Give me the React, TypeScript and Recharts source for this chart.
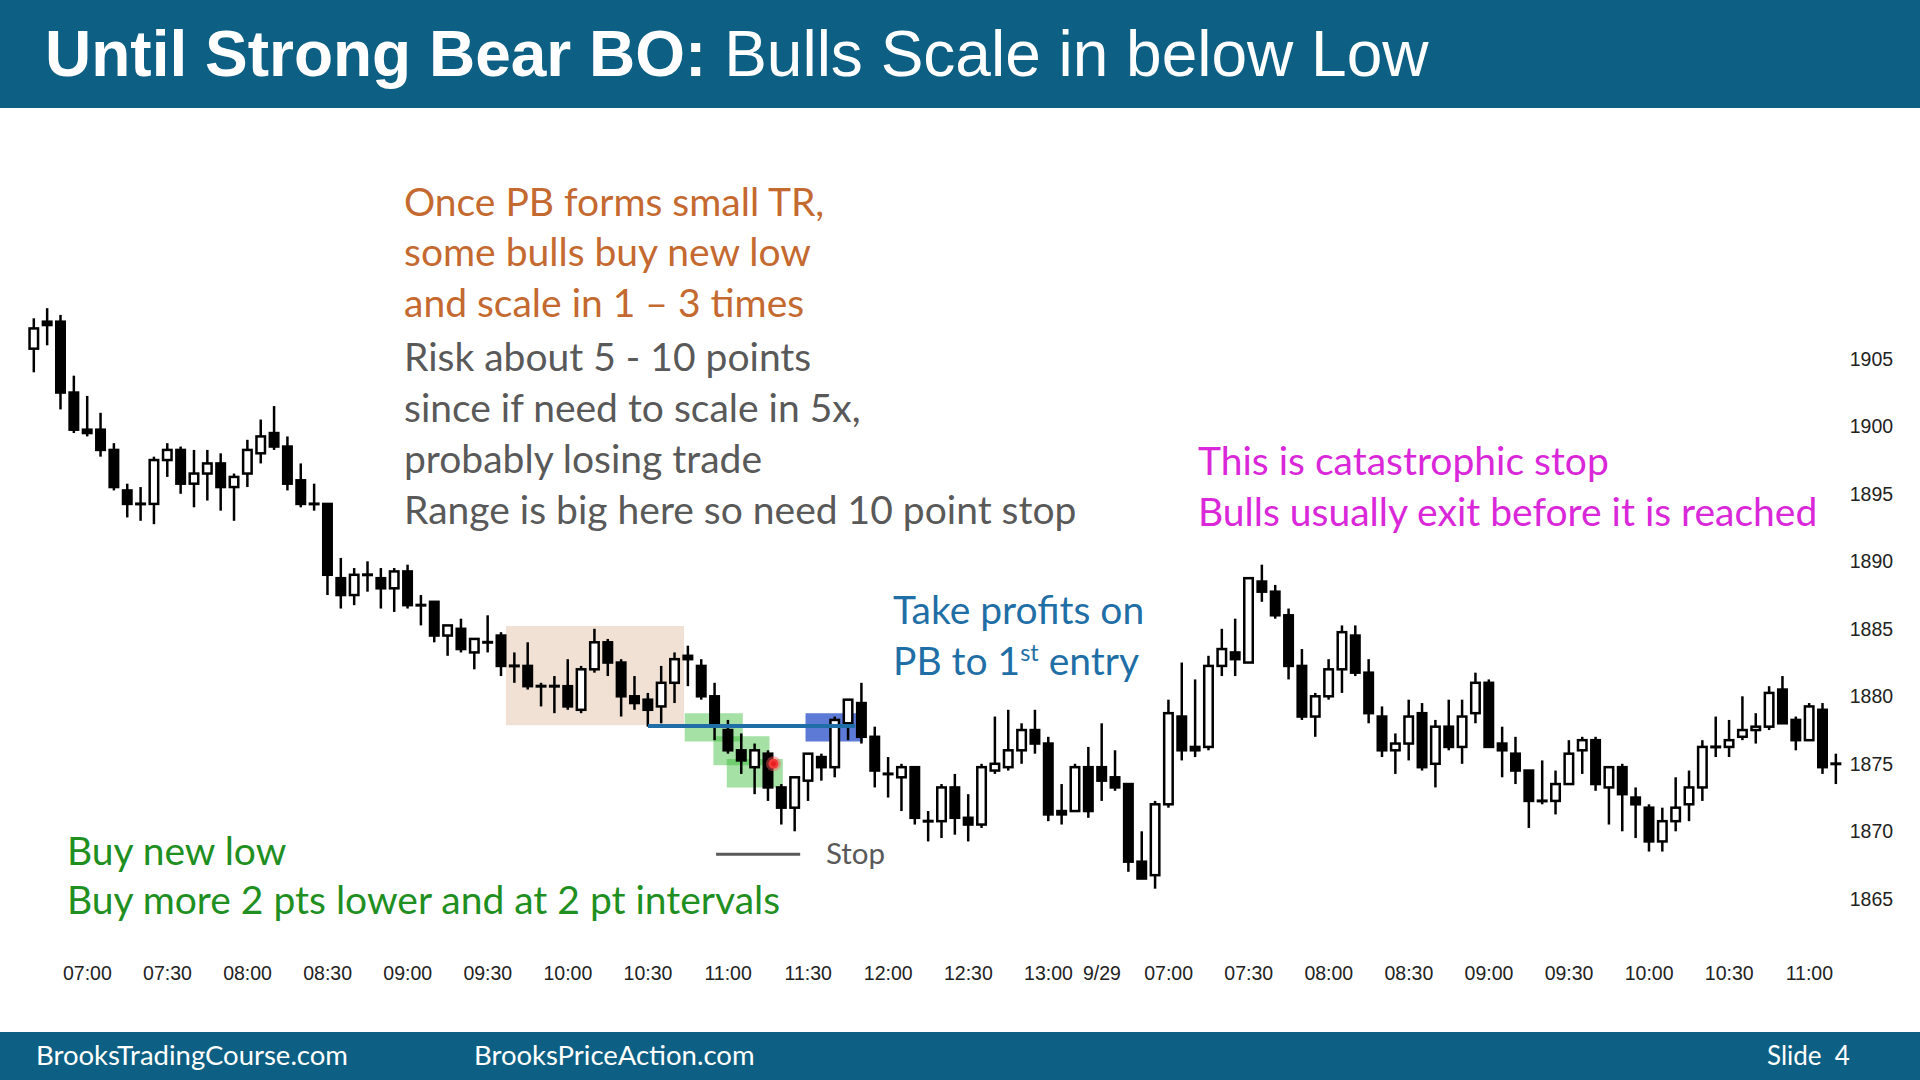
import React from 'react';
import { ComposedChart, Bar, XAxis, YAxis, ReferenceArea, ReferenceLine, ReferenceDot } from 'recharts';

const opens = [1905.75,1907.75,1907.75,1902.5,1899.75,1899.75,1898.25,1895.25,1894.25,1894.25,1897.5,1898.25,1895.75,1896.5,1897.25,1895.5,1896.5,1898.0,1899.5,1898.5,1896.0,1894.25,1894.25,1888.75,1887.5,1889.0,1888.75,1888.0,1889.25,1886.75,1887.0,1884.5,1885.0,1883.25,1884.0,1884.5,1882.25,1882.25,1880.75,1880.75,1880.75,1879.0,1882.0,1884.0,1882.5,1880.0,1879.75,1879.25,1881.0,1883.0,1882.25,1880.0,1877.5,1876.0,1874.75,1875.75,1873.25,1871.75,1873.75,1875.5,1874.75,1878.0,1879.5,1877.0,1874.25,1874.0,1874.75,1870.75,1870.75,1873.25,1871.0,1870.5,1874.5,1874.75,1876.0,1877.5,1876.5,1871.5,1871.5,1874.75,1874.75,1874.0,1873.5,1867.75,1866.75,1872.0,1878.5,1876.25,1876.25,1882.25,1883.25,1882.5,1888.5,1887.75,1886.0,1882.25,1878.5,1880.0,1882.0,1884.5,1881.75,1878.5,1876.0,1876.5,1878.75,1875.0,1877.75,1876.25,1878.75,1881.0,1876.5,1875.75,1874.5,1872.25,1872.25,1873.5,1876.0,1876.75,1873.25,1874.75,1872.5,1871.75,1869.25,1870.75,1872.0,1873.25,1876.25,1876.25,1877.0,1877.5,1877.75,1880.5,1878.25,1876.75,1879.0,1875.0];
const highs = [1908.0,1908.75,1908.25,1903.75,1902.25,1901.0,1898.75,1895.75,1895.5,1897.75,1898.75,1898.5,1898.25,1898.25,1898.0,1896.5,1899.0,1900.5,1901.5,1899.25,1897.25,1895.75,1894.25,1890.25,1889.5,1890.0,1889.5,1889.5,1889.75,1887.5,1887.0,1885.25,1885.75,1884.25,1886.0,1884.75,1883.25,1884.0,1881.0,1881.5,1882.75,1882.25,1885.0,1884.25,1882.75,1881.5,1880.25,1882.25,1883.25,1883.75,1882.75,1881.0,1878.25,1877.25,1876.5,1876.0,1873.5,1874.0,1875.75,1875.75,1878.5,1879.75,1881.0,1877.75,1875.5,1875.0,1874.75,1871.5,1873.5,1874.25,1872.75,1875.0,1878.5,1879.0,1878.0,1879.0,1877.0,1873.5,1875.0,1876.25,1878.0,1876.0,1873.5,1870.0,1872.25,1879.75,1882.5,1881.25,1883.0,1885.0,1885.75,1888.75,1889.75,1888.25,1886.5,1883.5,1880.25,1882.75,1885.25,1885.25,1882.75,1879.25,1877.25,1879.75,1879.5,1878.25,1879.75,1879.75,1881.75,1881.25,1877.75,1877.0,1874.5,1875.25,1874.5,1876.75,1877.0,1877.0,1874.75,1875.0,1873.25,1872.0,1871.75,1874.0,1874.5,1876.75,1878.5,1878.25,1880.0,1878.75,1880.75,1881.5,1878.5,1879.5,1879.5,1875.75];
const lows = [1904.0,1906.0,1901.25,1899.5,1899.25,1897.75,1895.25,1893.25,1893.0,1892.75,1896.25,1895.0,1894.0,1894.5,1893.75,1893.0,1895.5,1897.25,1898.25,1895.25,1894.0,1893.75,1887.5,1886.5,1886.75,1887.75,1886.5,1886.25,1886.5,1885.25,1884.0,1883.0,1883.25,1882.0,1883.25,1881.5,1881.0,1880.5,1879.25,1878.75,1879.0,1878.75,1881.75,1881.5,1878.5,1879.0,1877.75,1878.0,1879.5,1880.75,1879.75,1876.75,1875.75,1874.25,1872.75,1872.25,1870.5,1870.0,1872.25,1873.75,1874.0,1876.75,1876.5,1873.25,1872.5,1871.5,1870.5,1869.25,1869.5,1869.75,1869.25,1870.25,1874.25,1874.5,1875.0,1875.75,1870.75,1870.5,1871.5,1871.0,1872.25,1873.0,1867.0,1866.5,1865.75,1871.75,1875.25,1875.5,1876.0,1881.5,1881.5,1882.5,1887.0,1885.75,1881.25,1878.25,1877.0,1879.75,1880.25,1881.5,1878.0,1875.5,1874.25,1875.25,1874.5,1873.25,1876.0,1875.0,1878.0,1876.25,1874.0,1873.5,1870.25,1872.0,1871.25,1873.5,1874.25,1873.0,1870.5,1870.0,1869.5,1868.5,1868.5,1870.0,1870.75,1872.25,1875.5,1875.5,1876.75,1876.5,1877.5,1878.0,1876.0,1876.75,1874.25,1873.5];
const closes = [1907.25,1907.5,1902.5,1899.75,1899.5,1898.25,1895.5,1894.25,1894.25,1897.5,1898.25,1895.75,1896.5,1897.25,1895.5,1896.25,1898.25,1899.25,1898.5,1895.75,1894.25,1894.25,1889.0,1887.5,1889.0,1889.0,1888.0,1889.25,1886.75,1886.75,1884.5,1885.25,1883.5,1884.25,1884.0,1882.25,1882.25,1880.75,1880.75,1880.75,1879.25,1882.0,1884.0,1882.5,1880.0,1879.5,1879.0,1881.0,1882.75,1882.75,1880.0,1877.75,1876.0,1875.25,1876.0,1873.25,1871.75,1874.0,1875.75,1874.75,1878.25,1879.75,1877.0,1874.5,1874.25,1874.75,1871.0,1870.75,1873.25,1871.0,1870.5,1874.75,1875.0,1876.0,1877.5,1876.5,1871.25,1871.25,1874.75,1871.5,1873.75,1873.25,1867.75,1866.5,1872.0,1878.75,1876.0,1876.0,1882.25,1883.5,1882.75,1888.75,1887.75,1886.0,1882.25,1878.5,1880.0,1882.0,1884.75,1881.75,1878.75,1876.0,1876.5,1878.5,1874.75,1877.75,1876.25,1878.5,1881.0,1876.25,1876.0,1874.5,1872.25,1872.25,1873.5,1875.75,1876.75,1873.5,1874.75,1872.75,1872.0,1869.25,1870.75,1871.75,1873.25,1876.25,1876.25,1876.75,1877.5,1877.75,1880.25,1878.0,1876.75,1879.25,1874.75,1875.0];

const tickIndex = [4,10,16,22,28,34,40,46,52,58,64,70,76,80,85,91,97,103,109,115,121,127,133];
const tickLabels = ['07:00','07:30','08:00','08:30','09:00','09:30','10:00','10:30','11:00','11:30','12:00','12:30','13:00','9/29','07:00','07:30','08:00','08:30','09:00','09:30','10:00','10:30','11:00'];
const priceTicks = [1865,1870,1875,1880,1885,1890,1895,1900,1905];

// annotation zones in data units: [x1, x2, y1, y2]
const tanZone = [35.35, 48.7, 1877.85, 1885.2];
const greenZones = [
  [48.75, 53.1, 1876.65, 1878.75],
  [50.9, 55.1, 1874.9, 1877.05],
  [51.9, 56.1, 1873.25, 1875.35],
];
const blueZone = [57.8, 62.1, 1876.65, 1878.75];
const entryLine = [46, 61.5, 1877.8];
const stopLine = [51.1, 57.4, 1868.3];
const pointer = [55.4, 1875.0];

const data = opens.map((o, i) => ({
  i,
  o,
  h: highs[i],
  l: lows[i],
  c: closes[i],
  range: [lows[i], highs[i]],
}));

const Candle = (props: any) => {
  const { x, y, width, height, payload } = props;
  if (!payload) return null;
  const { o, h, l, c } = payload;
  const top = Math.min(y, y + height);
  const hgt = Math.abs(height);
  const ppu = h > l ? hgt / (h - l) : 0;
  const py = (v: number) => top + (h - v) * ppu;
  const cx = x + width / 2;
  const bull = c > o;
  const bt = py(Math.max(o, c));
  const bb = py(Math.min(o, c));
  const sw = 2.5;
  const elems: any[] = [];
  elems.push(<line key="w" x1={cx} x2={cx} y1={py(h)} y2={py(l)} stroke="#000" strokeWidth={2.5} />);
  if (bb - bt < 2.5) {
    elems.push(<line key="d" x1={x} x2={x + width} y1={(bt + bb) / 2} y2={(bt + bb) / 2} stroke="#000" strokeWidth={3} />);
  } else {
    elems.push(
      <rect key="b" x={x + sw / 2} y={bt} width={width - sw} height={bb - bt}
        fill={bull ? '#fff' : '#000'} stroke="#000" strokeWidth={sw} />
    );
  }
  return <g>{elems}</g>;
};

const textFont = 'Lato, "Open Sans", sans-serif';

const Line = ({ x, y, color, size, children }: any) => (
  <div style={{ position: 'absolute', left: x, top: y - 25, height: 50, lineHeight: '50px', fontSize: size, color, fontFamily: textFont, whiteSpace: 'nowrap' }}>
    {children}
  </div>
);

export default function App() {
  return (
    <div style={{ position: 'absolute', left: 0, top: 0, width: 1920, height: 1080, background: '#fff', overflow: 'hidden' }}>
      <div style={{ position: 'absolute', left: 0, top: 108 }}>
        <ComposedChart width={1920} height={924} data={data}
          margin={{ top: 183.3, right: 0, bottom: 0, left: 27.3 }}
          style={{ fontFamily: '"Liberation Sans", Arial, sans-serif' }}>
          <XAxis dataKey="i" type="number" domain={[-0.5, 135.5]} ticks={tickIndex} interval={0}
            tickFormatter={(v: number) => tickLabels[tickIndex.indexOf(v)] ?? ''}
            axisLine={false} tickLine={false} tickSize={6} tickMargin={21} height={92.7}
            tick={{ fontSize: 19.5, fill: '#222' }} />
          <YAxis orientation="right" type="number" domain={[1862, 1910]} ticks={priceTicks} interval={0}
            axisLine={false} tickLine={false} tickSize={6} tickMargin={1} width={77.3}
            tick={{ fontSize: 19.5, fill: '#222', textAnchor: 'start' }} />
          <Bar dataKey="range" barSize={11} shape={<Candle />} isAnimationActive={false} />
          <ReferenceArea x1={tanZone[0]} x2={tanZone[1]} y1={tanZone[2]} y2={tanZone[3]}
            fill="#bf7d46" fillOpacity={0.23} stroke="none" />
          {greenZones.map((z, k) => (
            <ReferenceArea key={k} x1={z[0]} x2={z[1]} y1={z[2]} y2={z[3]}
              fill="#28b428" fillOpacity={0.42} stroke="none" />
          ))}
          <ReferenceLine segment={[{ x: entryLine[0], y: entryLine[2] }, { x: entryLine[1], y: entryLine[2] }]}
            stroke="#1f6ea8" strokeWidth={4} />
          <ReferenceArea x1={blueZone[0]} x2={blueZone[1]} y1={blueZone[2]} y2={blueZone[3]}
            fill="#1e46c8" fillOpacity={0.72} stroke="none" />
          <ReferenceLine segment={[{ x: stopLine[0], y: stopLine[2] }, { x: stopLine[1], y: stopLine[2] }]}
            stroke="#595959" strokeWidth={3} />
          <ReferenceDot x={pointer[0]} y={pointer[1]} r={5} fill="#e82020" stroke="rgba(255,90,90,0.45)" strokeWidth={5} />
        </ComposedChart>
      </div>

      <div style={{ position: 'absolute', left: 0, top: 0, width: 1920, height: 108, background: '#0d6083' }} />
      <div style={{ position: 'absolute', left: 45, top: 0, height: 108, lineHeight: '108px', fontSize: 64, color: '#fff', fontFamily: '"Liberation Sans", Arial, sans-serif', whiteSpace: 'nowrap' }}>
        <span style={{ fontWeight: 'bold' }}>Until Strong Bear BO:</span> Bulls Scale in below Low
      </div>

      <Line x={404} y={201} color="#c4692f" size={39}>Once PB forms small TR,</Line>
      <Line x={404} y={251} color="#c4692f" size={39}>some bulls buy new low</Line>
      <Line x={404} y={302} color="#c4692f" size={39}>and scale in 1 – 3 times</Line>
      <Line x={404} y={356} color="#595959" size={39}>Risk about 5 - 10 points</Line>
      <Line x={404} y={407} color="#595959" size={39}>since if need to scale in 5x,</Line>
      <Line x={404} y={458} color="#595959" size={39}>probably losing trade</Line>
      <Line x={404} y={509} color="#595959" size={39}>Range is big here so need 10 point stop</Line>

      <Line x={1198} y={460} color="#d927d9" size={39}>This is catastrophic stop</Line>
      <Line x={1198} y={511} color="#d927d9" size={39}>Bulls usually exit before it is reached</Line>

      <Line x={893} y={609} color="#1f6fa6" size={39}>Take profits on</Line>
      <Line x={893} y={660} color="#1f6fa6" size={39}>PB to 1<sup style={{ fontSize: '0.6em', lineHeight: 0 }}>st</sup> entry</Line>

      <Line x={67} y={850} color="#1f8f1f" size={39}>Buy new low</Line>
      <Line x={67} y={899} color="#1f8f1f" size={39}>Buy more 2 pts lower and at 2 pt intervals</Line>

      <Line x={826} y={853} color="#595959" size={29.5}>Stop</Line>

      <div style={{ position: 'absolute', left: 0, top: 1032, width: 1920, height: 48, background: '#0d6083' }} />
      <div style={{ position: 'absolute', left: 36, top: 1032, height: 46, lineHeight: '46px', fontSize: 27.5, color: '#fff', fontFamily: textFont, whiteSpace: 'nowrap' }}>BrooksTradingCourse.com</div>
      <div style={{ position: 'absolute', left: 474, top: 1032, height: 46, lineHeight: '46px', fontSize: 27.5, color: '#fff', fontFamily: textFont, whiteSpace: 'nowrap' }}>BrooksPriceAction.com</div>
      <div style={{ position: 'absolute', left: 1767, top: 1032, height: 46, lineHeight: '46px', fontSize: 26, color: '#fff', fontFamily: textFont, whiteSpace: 'pre' }}>Slide  4</div>
    </div>
  );
}
